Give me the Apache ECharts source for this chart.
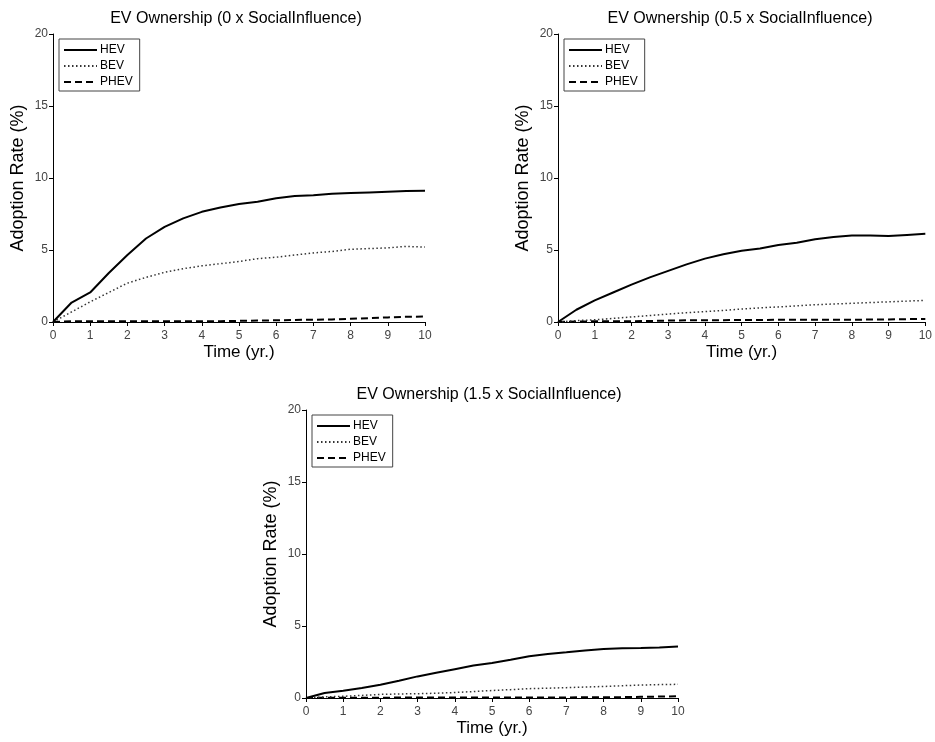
<!DOCTYPE html>
<html>
<head>
<meta charset="utf-8">
<script src="https://cdn.jsdelivr.net/npm/echarts@6/dist/echarts.min.js"></script>
<style>
  html, body { margin: 0; padding: 0; background: #fff; }
  #main { width: 935px; height: 742px; }
</style>
</head>
<body>
<div id="main"></div>
<script>
// 时间轴 (yr.)
var times = [0, 0.5, 1, 1.5, 2, 2.5, 3, 3.5, 4, 4.5, 5, 5.5, 6, 6.5, 7, 7.5, 8, 8.5, 9, 9.5, 10];

// 0 x SocialInfluence
var hev0 = [0, 1.35, 2.05, 3.4, 4.65, 5.8, 6.6, 7.2, 7.65, 7.95, 8.2, 8.35, 8.6, 8.75, 8.8, 8.9, 8.95, 9.0, 9.05, 9.1, 9.12];
var bev0 = [0, 0.7, 1.4, 2.05, 2.7, 3.1, 3.45, 3.7, 3.9, 4.05, 4.2, 4.4, 4.5, 4.65, 4.8, 4.9, 5.05, 5.1, 5.15, 5.25, 5.2];
var phev0 = [0, 0.05, 0.05, 0.05, 0.05, 0.05, 0.05, 0.05, 0.05, 0.06, 0.08, 0.1, 0.12, 0.14, 0.16, 0.18, 0.22, 0.27, 0.32, 0.36, 0.38];

// 0.5 x SocialInfluence
var hev05 = [0, 0.85, 1.5, 2.05, 2.6, 3.1, 3.55, 4.0, 4.4, 4.7, 4.95, 5.1, 5.35, 5.5, 5.75, 5.9, 6.0, 6.0, 5.98, 6.05, 6.12];
var bev05 = [0, 0.1, 0.15, 0.25, 0.35, 0.45, 0.55, 0.65, 0.72, 0.8, 0.9, 0.98, 1.05, 1.12, 1.2, 1.25, 1.3, 1.35, 1.4, 1.45, 1.5];
var phev05 = [0, 0.03, 0.05, 0.05, 0.05, 0.07, 0.1, 0.12, 0.13, 0.13, 0.14, 0.14, 0.15, 0.15, 0.15, 0.15, 0.15, 0.17, 0.18, 0.2, 0.2];

// 1.5 x SocialInfluence
var hev15 = [0, 0.35, 0.5, 0.7, 0.92, 1.2, 1.5, 1.75, 2.0, 2.25, 2.43, 2.65, 2.9, 3.05, 3.17, 3.3, 3.4, 3.45, 3.47, 3.5, 3.58];
var bev15 = [0, 0.08, 0.12, 0.18, 0.25, 0.28, 0.3, 0.33, 0.38, 0.45, 0.52, 0.58, 0.65, 0.68, 0.72, 0.76, 0.8, 0.85, 0.9, 0.93, 0.95];
var phev15 = [0, 0.02, 0.02, 0.02, 0.02, 0.03, 0.03, 0.03, 0.03, 0.03, 0.03, 0.03, 0.04, 0.04, 0.04, 0.05, 0.05, 0.06, 0.08, 0.1, 0.12];

var titles = [
  "EV Ownership (0 x SocialInfluence)",
  "EV Ownership (0.5 x SocialInfluence)",
  "EV Ownership (1.5 x SocialInfluence)"
];
var seriesNames = ["HEV", "BEV", "PHEV"];
var yTicks = [0, 5, 10, 15, 20];
var xTicks = [0, 1, 2, 3, 4, 5, 6, 7, 8, 9, 10];

(function() {
  var myChart = echarts.init(document.getElementById("main"));
  var font = "Liberation Sans, Arial, sans-serif";

  // 面板位置
  var panels = [
    { left: 53, top: 34, width: 372, height: 288, data: [hev0, bev0, phev0] },
    { left: 558, top: 34, width: 370, height: 288, data: [hev05, bev05, phev05] },
    { left: 306, top: 410, width: 372, height: 288, data: [hev15, bev15, phev15] }
  ];

  var lineStyles = [
    { color: "#000", width: 2, type: "solid" },
    { color: "#333", width: 1.5, type: [1.5, 2.5] },
    { color: "#000", width: 2, type: [7, 4] }
  ];

  function pairs(arr) {
    return arr.map(function(v, i) {
      return [times[i], v];
    });
  }

  var option = {
    animation: false,
    backgroundColor: "#fff",
    title: [],
    legend: [],
    grid: [],
    xAxis: [],
    yAxis: [],
    series: []
  };

  panels.forEach(function(p, k) {
    option.title.push({
      text: titles[k],
      left: p.left + p.width / 2 - 8,
      top: p.top - 28,
      textAlign: "center",
      textStyle: { fontFamily: font, fontSize: 16, fontWeight: "normal", color: "#000" }
    });
    option.legend.push({
      orient: "vertical",
      left: p.left + 6,
      top: p.top + 5,
      padding: [5, 7, 3, 4],
      itemWidth: 33,
      itemHeight: 12,
      itemGap: 4,
      borderColor: "#444",
      borderWidth: 1,
      data: seriesNames,
      itemStyle: { opacity: 0 },
      textStyle: { fontFamily: font, fontSize: 12, color: "#000", padding: [0, 0, 0, -2] }
    });
    option.grid.push({ left: p.left, top: p.top, width: p.width, height: p.height });
    option.xAxis.push({
      type: "value",
      gridIndex: k,
      min: 0,
      max: 10,
      interval: 1,
      name: "Time (yr.)",
      nameLocation: "middle",
      nameGap: 22,
      nameTextStyle: { fontFamily: font, fontSize: 17, color: "#000" },
      axisLine: { lineStyle: { color: "#000", width: 1 } },
      axisTick: { show: true, length: 4, lineStyle: { color: "#000" } },
      axisLabel: {
        fontFamily: font, fontSize: 12, color: "#444", margin: 8,
        formatter: function(v) { return xTicks.indexOf(v) >= 0 ? String(v) : ""; }
      },
      splitLine: { show: false }
    });
    option.yAxis.push({
      type: "value",
      gridIndex: k,
      min: 0,
      max: 20,
      interval: 5,
      name: "Adoption Rate (%)",
      nameLocation: "middle",
      nameGap: 26,
      nameTextStyle: { fontFamily: font, fontSize: 18, color: "#000" },
      axisLine: { show: true, lineStyle: { color: "#000", width: 1 } },
      axisTick: { show: true, length: 4, lineStyle: { color: "#000" } },
      axisLabel: {
        fontFamily: font, fontSize: 12, color: "#444", margin: 5,
        formatter: function(v) { return yTicks.indexOf(v) >= 0 ? String(v) : ""; }
      },
      splitLine: { show: false }
    });
    p.data.forEach(function(arr, j) {
      option.series.push({
        name: seriesNames[j],
        type: "line",
        xAxisIndex: k,
        yAxisIndex: k,
        showSymbol: false,
        symbol: "none",
        data: pairs(arr),
        itemStyle: { color: "#000" },
        lineStyle: lineStyles[j],
        z: 3 - j
      });
    });
  });

  myChart.setOption(option);
  window.addEventListener("resize", function() {
    myChart.resize();
  });
})();
</script>
</body>
</html>
